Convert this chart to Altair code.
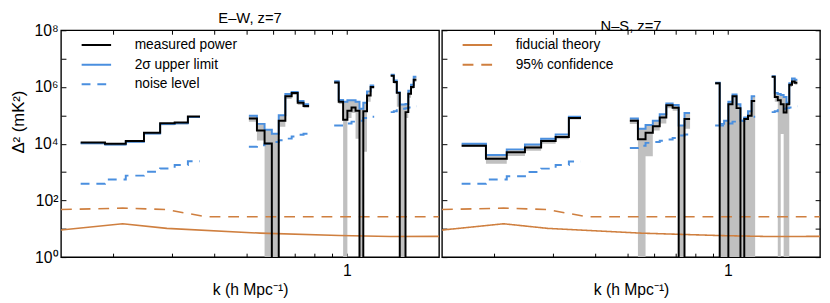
import altair as alt
import pandas as pd

# ---------------- data ----------------
K_FIRST = 0.1595   # left edge of bin 0 (h/Mpc)
K_STEP = 0.0291    # linear bin width

BINS = [0, 1, 2, 3, 4, 5, 6,
        12, 13, 14, 15, 16, 17, 18, 19, 20,
        26, 27, 28, 29, 30, 31, 32, 33, 34, 35,
        41, 42, 43, 44, 45, 46, 47, 48, 49]

# E-W, z=7   (None = negative measurement)
EW_MEASURED = [11000, 9900, 12500, 24400, 52500, 55600, 91800,
               77600, 29300, 10200, None, 64800, 473000, 617000, 278000, 214000,
               1450000, 300000, 70000, 145000, 190000, 145000, None, 140000, 500000, 1000000,
               2500000, 1500000, 620000, None, None, 130000, 580000, 1000000, 1800000]
EW_UPPER = [10300, 9300, 11800, 23000, 49500, 52500, 87000,
            96000, 50000, 31000, 22400, 101000, 569000, 665000, 318000, 245000,
            1600000, 350000, 300000, 340000, 340000, 300000, 170000, 280000, 700000, 1130000,
            2700000, 1700000, 650000, 240000, 240000, 250000, 740000, 1200000, 2300000]
EW_LOWER = [9500, 8500, 10800, 21000, 45000, 48000, 80000,
            60000, 13000, 0, 0, 40000, 380000, 520000, 230000, 180000,
            1300000, 250000, 0, 80000, 120000, 15000, 0, 5200, 300000, 850000,
            2300000, 1300000, 200000, 0, 0, 80000, 420000, 850000, 1500000]
EW_NOISE = [386, 545, 749, 1030, 1340, 1760, 2420,
            7760, 8800, 10000, 11500, 13200, 15100, 18100, 20700, 22400,
            44000, 44000, 47000, 52000, 60000, 60000, 65000, 80000, 80000, 89000,
            130000, 140000, 150000, 160000, 170000, 180000, 190000, 200000, 210000]

# N-S, z=7
NS_MEASURED = [8400, 2920, 4970, 7400, 12500, 17200, 80300,
               64800, 14300, 24300, 41200, 84300, 226000, 186000, None, 74000,
               1360000, None, None, 245000, 470000, 180000, None, 74000, 96000, 320000,
               2300000, 440000, 340000, 245000, 126000, 245000, 1200000, 1550000, 1400000]
NS_UPPER = [10000, 4000, 6300, 9400, 15000, 21300, 89000,
            78000, 33500, 45700, 64800, 110000, 264000, 230000, 43700, 120000,
            1400000, 50000, 65000, 300000, 540000, 245000, 65000, 84000, 140000, 470000,
            2400000, 620000, 570000, 520000, 440000, 280000, 1350000, 2000000, 1800000]
NS_LOWER = [7700, 1960, 3700, 5600, 10000, 14300, 72000,
            50000, 0, 3600, 29000, 52000, 178000, 144000, 0, 33500,
            1200000, 0, 0, 0, 0, 0, 0, 0, 0, 0,
            2100000, 300000, 0, 22000, 0, 0, 1000000, 1300000, 1200000]
NS_NOISE = [390, 550, 710, 1000, 1320, 1770, 2350,
            7100, 8500, 10700, 11500, 12800, 14000, 16000, 19600, 21000,
            44000, 44000, 47000, 52000, 60000, 60000, 65000, 80000, 84000, 89000,
            130000, 140000, 150000, 160000, 170000, 180000, 190000, 200000, 210000]

# theory curves (same in both panels)
FID_K = [0.1393, 0.213, 0.289, 0.55, 0.95, 1.35, 1.888]
FID_V = [9.0, 15.0, 10.3, 7.0, 5.75, 5.3, 5.4]
CONF_K = [0.1393, 0.213, 0.289, 0.33, 0.38, 1.888]
CONF_V = [47.7, 53.3, 47.7, 35.3, 26.5, 26.5]

X_DOMAIN = [0.1393, 1.888]
Y_DOMAIN = [1, 1e8]
X_TICKS = [0.2, 0.3, 0.4, 0.5, 0.6, 0.7, 0.8, 0.9, 1.0]
Y_TICKS = [1, 10, 100, 1000, 10000, 100000, 1000000, 10000000, 100000000]

BLACK = "#000000"
BLUE = "#4a8fdf"
ORANGE = "#cf7f3f"
GREY = "#c0c0c0"
FONT = "Liberation Sans"
FLOOR = 1e-3  # stands for "below the axis" (negative values)
SOLID = [1, 0]
NOISE_DASH = [9, 7]
CONF_DASH = [11, 8]

# ---------------- helpers ----------------
def runs():
    out = []
    for i, b in enumerate(BINS):
        if i == 0 or b != BINS[i - 1] + 1:
            out.append([])
        out[-1].append(i)
    return out


def pv(v):
    return v if (v is not None and v > 0) else FLOOR


def step_df(values, series):
    rows = []
    for g, run in enumerate(runs()):
        for i in run:
            rows.append(dict(k=K_FIRST + K_STEP * BINS[i], v=pv(values[i]), grp=g, series=series))
        last = run[-1]
        rows.append(dict(k=K_FIRST + K_STEP * (BINS[last] + 1), v=pv(values[last]), grp=g, series=series))
    return pd.DataFrame(rows)


def band_df(hi, lo):
    rows = []
    for g, run in enumerate(runs()):
        for i in run:
            rows.append(dict(k=K_FIRST + K_STEP * BINS[i], hi=pv(hi[i]), lo=pv(lo[i]), grp=g))
        last = run[-1]
        rows.append(dict(k=K_FIRST + K_STEP * (BINS[last] + 1), hi=pv(hi[last]), lo=pv(lo[last]), grp=g))
    return pd.DataFrame(rows)


xs = alt.Scale(type="log", domain=X_DOMAIN, nice=False)
ys = alt.Scale(type="log", domain=Y_DOMAIN, nice=False)

Y_LABELS = ("datum.value == 1 ? '10\u2070' : datum.value == 100 ? '10\u00b2' : "
            "datum.value == 10000 ? '10\u2074' : datum.value == 1000000 ? '10\u2076' : "
            "datum.value == 100000000 ? '10\u2078' : ''")


def x_bottom():
    return alt.Axis(orient="bottom", values=X_TICKS, tickSize=4, offset=-4, domain=False, grid=False,
                    labelExpr="datum.value == 1 ? '1' : ''", labelFontSize=16, labelPadding=6,
                    labelOverlap=False, labelFlush=False, title="k (h Mpc\u207b\u00b9)",
                    titleFontSize=16, titlePadding=3, titleFontWeight="normal")


def x_top():
    return alt.Axis(orient="top", values=X_TICKS, tickSize=4, offset=-4, domain=False, grid=False,
                    labels=False, title=None)


def y_left(labels):
    if labels:
        return alt.Axis(orient="left", values=Y_TICKS, tickSize=5, offset=-5, domain=False, grid=False,
                        labelExpr=Y_LABELS, labelFontSize=16, labelPadding=3, labelOverlap=False,
                        labelFlush=False, title="\u0394\u00b2 (mK\u00b2)", titleFontSize=17,
                        titlePadding=7, titleFontWeight="normal", titleY=93)
    return alt.Axis(orient="left", values=Y_TICKS, tickSize=5, offset=-5, domain=False, grid=False,
                    labels=False, title=None)


def y_right():
    return alt.Axis(orient="right", values=Y_TICKS, tickSize=5, offset=-5, domain=False, grid=False,
                    labels=False, title=None)


def legend():
    return alt.Legend(title=None, orient="none", legendX=19, legendY=8, symbolType="M-1,0H5",
                      symbolSize=100, symbolStrokeWidth=2, labelFontSize=14, labelFont=FONT,
                      labelOffset=42, rowPadding=6, padding=0, symbolFillColor="transparent")


def panel(title, measured, upper, lower, noise, left):
    band = alt.Chart(band_df(upper, lower)).mark_area(
        interpolate="step-after", color=GREY, clip=True).encode(
        x=alt.X("k:Q", scale=xs, axis=x_bottom()),
        y=alt.Y("hi:Q", scale=ys, axis=y_left(left)),
        y2="lo:Q",
        detail="grp:N",
    )

    th_dom = ["fiducial theory", "95% confidence"]
    fid_df = pd.DataFrame(dict(k=FID_K, v=FID_V, series=th_dom[0]))
    conf_df = pd.DataFrame(dict(k=CONF_K, v=CONF_V, series=th_dom[1]))
    if left:
        theory = [
            alt.Chart(fid_df).mark_line(strokeWidth=1.6, clip=True, color=ORANGE).encode(
                x=alt.X("k:Q", scale=xs, axis=x_top()),
                y=alt.Y("v:Q", scale=ys, axis=None)),
            alt.Chart(conf_df).mark_line(strokeWidth=1.6, clip=True, color=ORANGE,
                                         strokeDash=CONF_DASH).encode(
                x=alt.X("k:Q", scale=xs, axis=None),
                y=alt.Y("v:Q", scale=ys, axis=None)),
        ]
    else:
        theory = [
            alt.Chart(pd.concat([fid_df, conf_df])).mark_line(strokeWidth=1.6, clip=True).encode(
                x=alt.X("k:Q", scale=xs, axis=x_top()),
                y=alt.Y("v:Q", scale=ys, axis=y_right()),
                color=alt.Color("series:N", scale=alt.Scale(domain=th_dom, range=[ORANGE, ORANGE]),
                                legend=legend()),
                strokeDash=alt.StrokeDash("series:N",
                                          scale=alt.Scale(domain=th_dom, range=[SOLID, CONF_DASH]),
                                          legend=legend()),
                detail="series:N"),
        ]

    dom = ["measured power", "2\u03c3 upper limit", "noise level"]

    def step_layer(vals, name, width):
        if left:
            color = alt.Color("series:N", scale=alt.Scale(domain=dom, range=[BLACK, BLUE, BLUE]),
                              legend=legend())
            dash = alt.StrokeDash("series:N", scale=alt.Scale(domain=dom, range=[SOLID, SOLID, NOISE_DASH]),
                                  legend=legend())
        else:
            color = alt.value(BLACK if name == dom[0] else BLUE)
            dash = alt.value(NOISE_DASH if name == dom[2] else SOLID)
        return alt.Chart(step_df(vals, name)).mark_line(
            interpolate="step-after", strokeWidth=width, clip=True).encode(
            x=alt.X("k:Q", scale=xs, axis=None),
            y=alt.Y("v:Q", scale=ys, axis=None),
            color=color,
            strokeDash=dash,
            detail="grp:N",
        )

    layers = [band] + theory + [
        step_layer(noise, dom[2], 2),
        step_layer(upper, dom[1], 2),
        step_layer(measured, dom[0], 2)]
    return alt.layer(*layers).resolve_axis(x="independent", y="independent").properties(
        width=385, height=231,
        title=alt.TitleParams(title, fontSize=15, fontWeight="normal", font=FONT, offset=-4,
                              anchor="middle"),
    )


left_panel = panel("E\u2013W, z=7", EW_MEASURED, EW_UPPER, EW_LOWER, EW_NOISE, True)
right_panel = panel("N\u2013S, z=7", NS_MEASURED, NS_UPPER, NS_LOWER, NS_NOISE, False)

chart = alt.hconcat(left_panel, right_panel, spacing=0).resolve_scale(
    color="independent", strokeDash="independent"
).properties(padding=0).configure(font=FONT).configure_view(
    stroke="black", strokeWidth=1.4
).configure_axis(
    tickColor="black", labelColor="black", titleColor="black", tickWidth=1,
    labelFont=FONT, titleFont=FONT
).configure_legend(labelColor="black")

chart.save("out.html", embed_options={"renderer": "svg", "actions": False})
